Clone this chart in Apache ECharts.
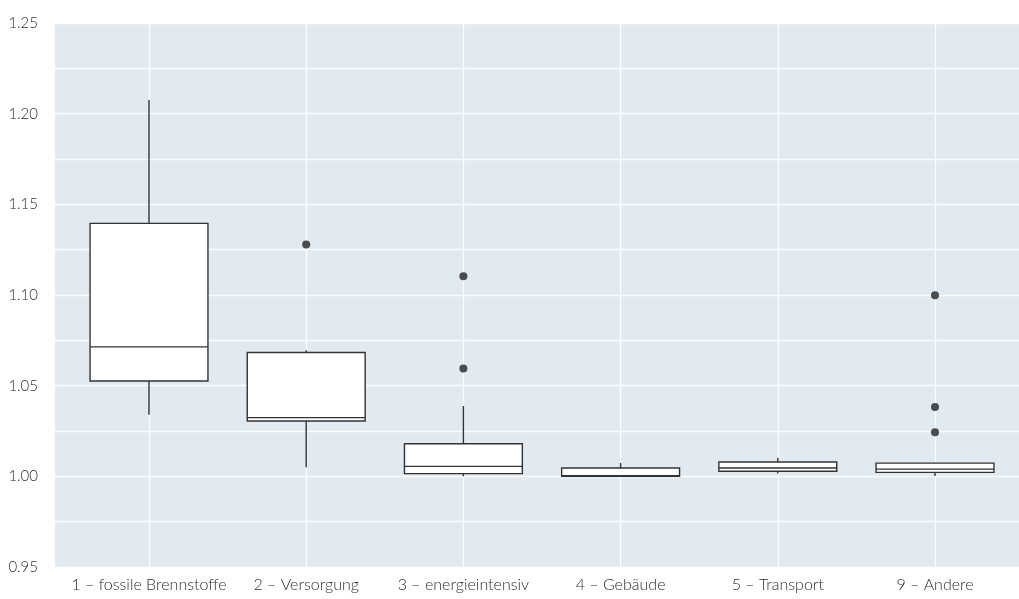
<!DOCTYPE html>
<html>
<head>
<meta charset="utf-8">
<script src="https://cdn.jsdelivr.net/npm/echarts@6/dist/echarts.min.js"></script>
<style>
  html, body { margin: 0; padding: 0; background: #fff; }
  #chart { width: 1019px; height: 599px; }
</style>
</head>
<body>
<div id="chart"></div>
<script>
// Sectors on the category axis
const categories = [
  '1 – fossile Brennstoffe',
  '2 – Versorgung',
  '3 – energieintensiv',
  '4 – Gebäude',
  '5 – Transport',
  '9 – Andere'
];

// Box statistics per sector: [lower whisker, Q1, median, Q3, upper whisker]
const lowerWhisker = [1.034, 1.005, 1.000, 1.000, 1.0015, 1.0002];
const quartile1    = [1.0526, 1.0305, 1.0015, 1.000, 1.0028, 1.0022];
const medians      = [1.0714, 1.0324, 1.0055, 1.0003, 1.0046, 1.0040];
const quartile3    = [1.1395, 1.0683, 1.0180, 1.0046, 1.0079, 1.0073];
const upperWhisker = [1.2075, 1.0695, 1.0388, 1.0073, 1.0103, 1.0075];

// Outliers: [sector index, value]
const outliers = [
  [1, 1.1279],
  [2, 1.1104],
  [2, 1.0594],
  [5, 1.0999],
  [5, 1.0383],
  [5, 1.0243]
];

// Value axis range and tick step
const yMin = 0.95;
const yMax = 1.25;
const yStep = 0.05;

const boxData = categories.map((c, i) => [
  i, lowerWhisker[i], quartile1[i], medians[i], quartile3[i], upperWhisker[i]
]);

const labelFont = { fontFamily: 'Lato', fontWeight: 300, fontSize: 15, color: '#2e2e2e' };
const boxColor = '#333';

function renderBox(params, api) {
  const idx = api.value(0);
  const band = api.size([1, 0])[0];
  const half = band * 0.375;
  const pMin = api.coord([idx, api.value(1)]);
  const pQ1 = api.coord([idx, api.value(2)]);
  const pMed = api.coord([idx, api.value(3)]);
  const pQ3 = api.coord([idx, api.value(4)]);
  const pMax = api.coord([idx, api.value(5)]);
  const x = pMed[0];
  const lineStyle = { stroke: boxColor, lineWidth: 1.4, fill: null };
  return {
    type: 'group',
    children: [
      { type: 'line', shape: { x1: x, y1: pMax[1], x2: x, y2: pQ3[1] }, style: lineStyle },
      { type: 'line', shape: { x1: x, y1: pQ1[1], x2: x, y2: pMin[1] }, style: lineStyle },
      {
        type: 'rect',
        shape: { x: x - half, y: pQ3[1], width: half * 2, height: pQ1[1] - pQ3[1] },
        style: { fill: '#fff', stroke: boxColor, lineWidth: 1.4 }
      },
      { type: 'line', shape: { x1: x - half, y1: pMed[1], x2: x + half, y2: pMed[1] }, style: lineStyle }
    ]
  };
}

const chart = echarts.init(document.getElementById('chart'), null, { renderer: 'canvas' });

chart.setOption({
  animation: false,
  backgroundColor: '#fff',
  grid: [
    { left: 149, right: 84, top: 23, bottom: 32, containLabel: false },
    { left: 55, right: -12, top: 23, bottom: 32, containLabel: false,
      show: true, backgroundColor: '#e1eaf1', borderWidth: 0 }
  ],
  xAxis: [
    {
      type: 'category', gridIndex: 0, data: categories, boundaryGap: false,
      axisLine: { show: false }, axisTick: { show: false },
      axisLabel: Object.assign({ margin: 10, interval: 0 }, labelFont, { fontSize: 16 }),
      splitLine: { show: true, lineStyle: { color: '#fff', width: 1.3 } }
    },
    { type: 'value', gridIndex: 1, show: false, min: 0, max: 1 }
  ],
  yAxis: [
    { type: 'value', gridIndex: 0, min: yMin, max: yMax, interval: yStep, show: false },
    {
      type: 'value', gridIndex: 1, min: yMin, max: yMax, interval: yStep,
      axisLine: { show: false }, axisTick: { show: false },
      axisLabel: Object.assign({ margin: 17, formatter: v => v.toFixed(2) }, labelFont),
      splitLine: { show: true, lineStyle: { color: '#fff', width: 1.3 } },
      minorTick: { show: false, splitNumber: 2 },
      minorSplitLine: { show: true, lineStyle: { color: '#fff', width: 1.3 } }
    }
  ],
  series: [
    {
      type: 'custom', xAxisIndex: 0, yAxisIndex: 0,
      data: boxData, renderItem: renderBox, z: 3,
      encode: { x: 0, y: [1, 2, 3, 4, 5] }
    },
    {
      type: 'scatter', xAxisIndex: 0, yAxisIndex: 0,
      data: outliers, symbol: 'circle', symbolSize: 8, z: 4,
      itemStyle: { color: '#222' }
    }
  ]
});
</script>
</body>
</html>
